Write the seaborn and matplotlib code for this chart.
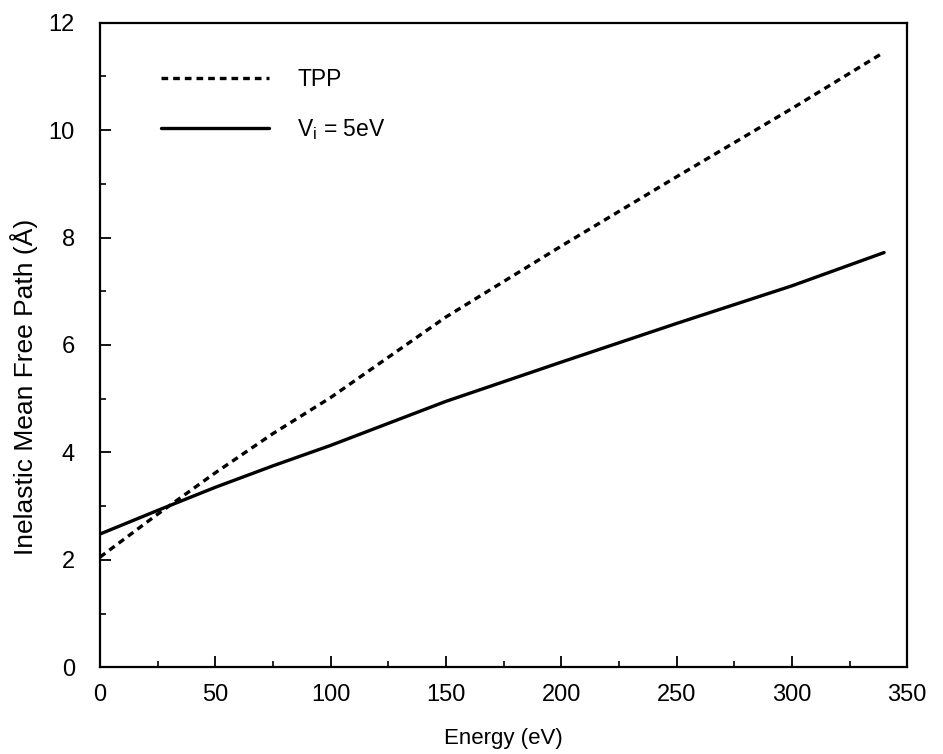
import pandas as pd
import matplotlib
matplotlib.use("Agg")
import matplotlib.pyplot as plt
import seaborn as sns

# --- data ---
energy = [0, 25, 50, 75, 100, 150, 200, 250, 300, 340]
imfp_tpp = [2.05, 2.85, 3.62, 4.35, 5.02, 6.52, 7.84, 9.13, 10.40, 11.45]
imfp_vi5 = [2.48, 2.92, 3.35, 3.75, 4.13, 4.95, 5.68, 6.40, 7.10, 7.72]

labels = ["TPP", "V$_\\mathregular{i}$ = 5eV"]

df = pd.concat([
    pd.DataFrame({"Energy": energy, "IMFP": imfp_tpp, "model": labels[0]}),
    pd.DataFrame({"Energy": energy, "IMFP": imfp_vi5, "model": labels[1]}),
])

sns.set_style("ticks", {"axes.edgecolor": "black", "text.color": "black",
                        "xtick.color": "black", "ytick.color": "black",
                        "axes.labelcolor": "black"})
plt.rcParams["font.family"] = ["Liberation Sans", "DejaVu Sans"]

fig = plt.figure(figsize=(9.43, 7.54), dpi=100)
ax = fig.add_axes([0.106, 0.115, 0.856, 0.855])

sns.lineplot(
    data=df, x="Energy", y="IMFP", style="model",
    style_order=labels, dashes={labels[0]: (2, 1.5), labels[1]: ""},
    color="black", linewidth=2.4, ax=ax,
)

ax.set_xlim(0, 350)
ax.set_ylim(0, 12)
ax.set_xticks(range(0, 351, 50))
ax.set_xticks(range(25, 350, 50), minor=True)
ax.set_yticks(range(0, 13, 2))
ax.set_yticks(range(1, 12, 2), minor=True)
ax.tick_params(which="major", direction="in", length=8, width=1.3, labelsize=17)
ax.tick_params(axis="x", which="major", pad=12)
ax.tick_params(axis="y", which="major", pad=18)
ax.tick_params(which="minor", direction="in", length=4, width=1.2)
for s in ax.spines.values():
    s.set_linewidth(1.6)
    s.set_visible(True)

ax.set_xlabel("Energy (eV)", fontsize=16, labelpad=16)
ax.set_ylabel("Inelastic Mean Free Path (\u00c5)", fontsize=19)
ax.yaxis.set_label_coords(-0.077, 0.435)

ax.legend(
    loc="upper left", title=None, frameon=False, fontsize=16.5,
    handlelength=4.7, handletextpad=1.25, labelspacing=1.15,
    bbox_to_anchor=(0.05, 0.962),
)

fig.savefig("out.png", dpi=100)
